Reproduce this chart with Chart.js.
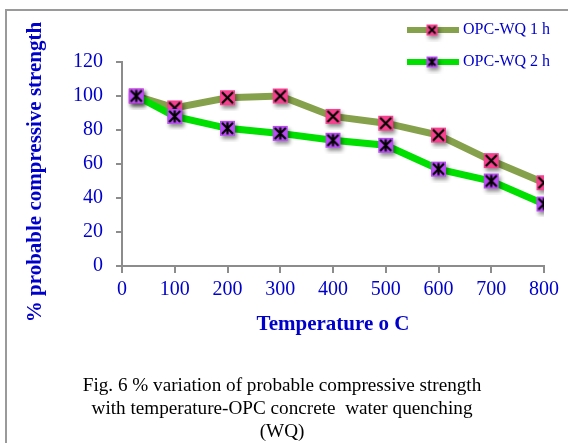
<!DOCTYPE html>
<html>
<head>
<meta charset="utf-8">
<script src="https://cdn.jsdelivr.net/npm/chart.js@4/dist/chart.umd.min.js"></script>
<style>
  html, body { margin: 0; padding: 0; background: #fff; }
  #wrap { position: relative; width: 568px; height: 443px; }
</style>
</head>
<body>
<div id="wrap"><canvas id="strengthChart" width="568" height="443"></canvas></div>
<script>
// data
const temperatures = [27, 100, 200, 300, 400, 500, 600, 700, 800];
const wq1h = [100, 93, 99, 100, 88, 84, 77, 62, 49];
const wq2h = [100, 88, 81, 78, 74, 71, 57, 50, 36.5];
const seriesNames = ['OPC-WQ 1 h', 'OPC-WQ 2 h'];
const yTicks = [0, 20, 40, 60, 80, 100, 120];
const xTicks = [0, 100, 200, 300, 400, 500, 600, 700, 800];
const yTitle = '% probable compressive strength';
const xTitle = 'Temperature o C';
const captionLines = [
  'Fig. 6 % variation of probable compressive strength',
  'with temperature-OPC concrete  water quenching',
  '(WQ)'
];

const BLUE = '#0000cc';
const AXIS = '#8c8c8c';
const SERIF = "'Liberation Serif', 'Times New Roman', serif";

// square marker with an X (or asterisk) and a soft drop shadow
function makeMarker(fill, star, size) {
  const pad = 6;
  const c = document.createElement('canvas');
  c.width = c.height = size + pad * 2;
  const g = c.getContext('2d');
  g.shadowColor = 'rgba(0,0,0,0.45)';
  g.shadowBlur = 4;
  g.shadowOffsetX = 2;
  g.shadowOffsetY = 3;
  g.fillStyle = fill;
  g.fillRect(pad, pad, size, size);
  g.shadowColor = 'transparent';
  g.strokeStyle = '#000';
  g.lineWidth = size > 11 ? 2.2 : 1.8;
  const a = pad + 2, b = pad + size - 2;
  g.beginPath();
  g.moveTo(a, a); g.lineTo(b, b);
  g.moveTo(b, a); g.lineTo(a, b);
  if (star) {
    const m = pad + size / 2;
    g.moveTo(m, a - 0.5); g.lineTo(m, b + 0.5);
  }
  g.stroke();
  return c;
}

const styles = [
  { line: '#86a14b', fill: '#f7418f', star: false },
  { line: '#00e000', fill: '#b94cf5', star: true }
];

const pointsOf = vals => temperatures.map((t, i) => ({ x: t, y: vals[i] }));

// frame, y title, legend and caption
const decorPlugin = {
  id: 'decor',
  beforeDraw(chart) {
    const ctx = chart.ctx;
    ctx.save();
    ctx.strokeStyle = '#9a9a9a';
    ctx.lineWidth = 2;
    ctx.beginPath();
    ctx.moveTo(6, 443);
    ctx.lineTo(6, 10);
    ctx.lineTo(568, 10);
    ctx.stroke();
    ctx.restore();
  },
  afterDraw(chart) {
    const ctx = chart.ctx;
    ctx.save();
    // y axis title
    ctx.save();
    ctx.translate(36, 172);
    ctx.rotate(-Math.PI / 2);
    ctx.fillStyle = BLUE;
    ctx.font = 'bold 21px ' + SERIF;
    ctx.textAlign = 'center';
    ctx.textBaseline = 'middle';
    ctx.fillText(yTitle, 0, 0);
    ctx.restore();
    // legend
    seriesNames.forEach((name, i) => {
      const y = 30 + i * 32;
      ctx.strokeStyle = styles[i].line;
      ctx.lineWidth = 6;
      ctx.beginPath();
      ctx.moveTo(407, y);
      ctx.lineTo(459, y);
      ctx.stroke();
      const m = makeMarker(styles[i].fill, styles[i].star, 11);
      ctx.drawImage(m, 432 - m.width / 2, y - m.height / 2);
      ctx.fillStyle = BLUE;
      ctx.font = '16px ' + SERIF;
      ctx.textBaseline = 'middle';
      ctx.textAlign = 'left';
      ctx.fillText(name, 463, y);
    });
    // caption
    ctx.fillStyle = '#000';
    ctx.font = '19.2px ' + SERIF;
    ctx.textAlign = 'center';
    ctx.textBaseline = 'middle';
    captionLines.forEach((line, i) => ctx.fillText(line, 282, 386 + i * 23));
    ctx.restore();
  }
};

new Chart(document.getElementById('strengthChart'), {
  type: 'line',
  data: {
    datasets: [
      {
        label: seriesNames[0],
        data: pointsOf(wq1h),
        borderColor: styles[0].line,
        borderWidth: 7,
        pointStyle: makeMarker(styles[0].fill, false, 15),
        order: 1
      },
      {
        label: seriesNames[1],
        data: pointsOf(wq2h),
        borderColor: styles[1].line,
        borderWidth: 7,
        pointStyle: makeMarker(styles[1].fill, true, 15),
        order: 0
      }
    ]
  },
  options: {
    responsive: false,
    animation: false,
    events: [],
    layout: { padding: { left: 0, right: 24, top: 62, bottom: 106 } },
    plugins: {
      legend: { display: false },
      tooltip: { enabled: false }
    },
    scales: {
      x: {
        type: 'linear',
        min: 0,
        max: 800,
        afterBuildTicks: s => { s.ticks = xTicks.map(v => ({ value: v })); },
        afterFit: s => { s.height = 71; },
        grid: { drawOnChartArea: false, color: AXIS, lineWidth: 2, tickLength: 7 },
        border: { color: AXIS, width: 2 },
        ticks: { color: BLUE, font: { family: SERIF, size: 20 }, padding: 5, maxRotation: 0 },
        title: {
          display: true,
          text: xTitle,
          color: BLUE,
          font: { family: SERIF, size: 21, weight: 'bold' },
          padding: { top: 0, bottom: 0 }
        }
      },
      y: {
        min: 0,
        max: 120,
        afterBuildTicks: s => { s.ticks = yTicks.map(v => ({ value: v })); },
        afterFit: s => { s.width = 122; },
        grid: { drawOnChartArea: false, color: AXIS, lineWidth: 2, tickLength: 6 },
        border: { color: AXIS, width: 2 },
        ticks: { color: BLUE, font: { family: SERIF, size: 20 }, padding: 13 }
      }
    }
  },
  plugins: [decorPlugin]
});
</script>
</body>
</html>
